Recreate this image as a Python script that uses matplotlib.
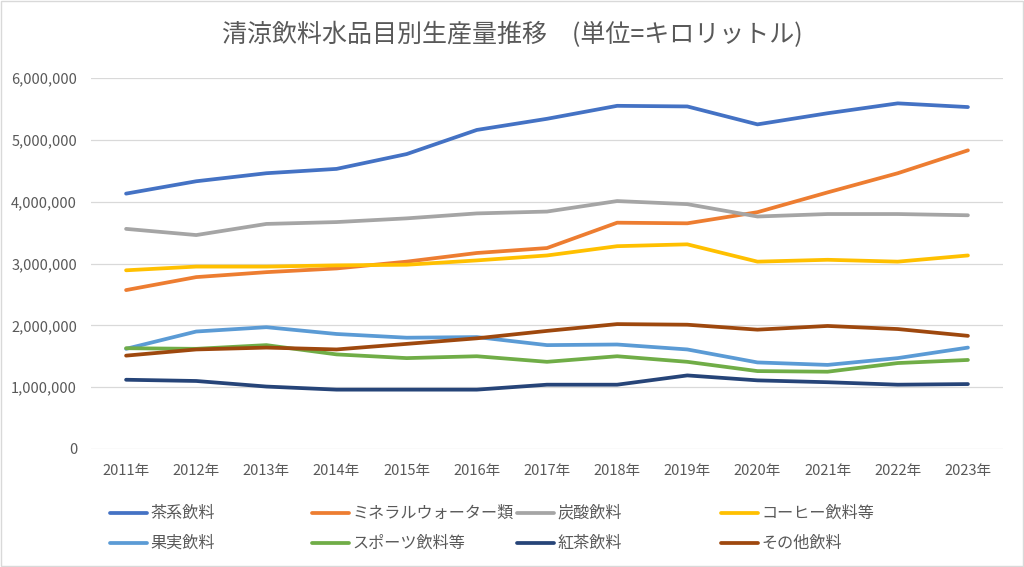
import matplotlib.pyplot as plt
from matplotlib.lines import Line2D
from matplotlib.patches import Rectangle
from matplotlib.ticker import FuncFormatter

plt.rcParams['font.family'] = ['Noto Sans CJK JP', 'DejaVu Sans']

years = ['2011年', '2012年', '2013年', '2014年', '2015年', '2016年', '2017年',
         '2018年', '2019年', '2020年', '2021年', '2022年', '2023年']

# 単位: キロリットル
tea = [4130000, 4330000, 4460000, 4530000, 4770000, 5160000, 5340000,
       5550000, 5540000, 5250000, 5430000, 5590000, 5530000]
mineral = [2570000, 2780000, 2860000, 2920000, 3030000, 3170000, 3250000,
           3660000, 3650000, 3830000, 4150000, 4460000, 4830000]
soda = [3560000, 3460000, 3640000, 3670000, 3730000, 3810000, 3840000,
        4010000, 3960000, 3760000, 3800000, 3800000, 3780000]
coffee = [2890000, 2950000, 2950000, 2970000, 2980000, 3050000, 3130000,
          3280000, 3310000, 3030000, 3060000, 3030000, 3130000]
fruit = [1620000, 1900000, 1970000, 1860000, 1800000, 1810000, 1680000,
         1690000, 1610000, 1400000, 1360000, 1470000, 1640000]
sports = [1630000, 1620000, 1680000, 1530000, 1470000, 1500000, 1410000,
          1500000, 1410000, 1260000, 1250000, 1390000, 1440000]
black_tea = [1120000, 1100000, 1010000, 960000, 960000, 960000, 1040000,
             1040000, 1190000, 1110000, 1080000, 1040000, 1050000]
others = [1510000, 1610000, 1640000, 1610000, 1700000, 1790000, 1910000,
          2020000, 2010000, 1930000, 1990000, 1940000, 1830000]

names = ['茶系飲料', 'ミネラルウォーター類', '炭酸飲料', 'コーヒー飲料等',
         '果実飲料', 'スポーツ飲料等', '紅茶飲料', 'その他飲料']
series = [tea, mineral, soda, coffee, fruit, sports, black_tea, others]
colors = ['#4472C4', '#ED7D31', '#A5A5A5', '#FFC000',
          '#5B9BD5', '#70AD47', '#264478', '#9E480E']

text_gray = '#595959'
grid_gray = '#D9D9D9'

fig = plt.figure(figsize=(10.24, 5.67), dpi=100)
ax = fig.add_axes([91 / 1024, 1 - 449 / 567, 912 / 1024, 371 / 567])

x = list(range(len(years)))
for vals, c in zip(series, colors):
    ax.plot(x, vals, color=c, lw=2.7, solid_capstyle='round', solid_joinstyle='round')

ax.set_xlim(-0.5, len(years) - 0.5)
ax.set_ylim(0, 6000000)
ax.set_yticks(range(0, 6000001, 1000000))
ax.yaxis.set_major_formatter(FuncFormatter(lambda v, p: f'{int(v):,}'))
ax.set_xticks(x)
ax.set_xticklabels(years)
ax.grid(axis='y', color=grid_gray, lw=0.9)
ax.set_axisbelow(True)
for s in ax.spines.values():
    s.set_visible(False)
ax.tick_params(axis='both', length=0, colors=text_gray, labelsize=10.5)
ax.tick_params(axis='y', pad=10)
ax.tick_params(axis='x', pad=11)

fig.text(0.5, 1 - 35 / 567, '清涼飲料水品目別生産量推移　(単位=キロリットル)',
         ha='center', va='center', fontsize=18, color=text_gray)

# legend laid out on a fixed 4-column grid like the original
col_x = [110, 312, 517, 721]
row_y = [513, 543]
for i, (name, c) in enumerate(zip(names, colors)):
    lx = col_x[i % 4] / 1024
    ly = 1 - row_y[i // 4] / 567
    fig.add_artist(Line2D([lx, lx + 37 / 1024], [ly, ly], color=c, lw=2.7,
                          solid_capstyle='round', transform=fig.transFigure))
    fig.text(lx + 40 / 1024, ly, name, ha='left', va='center',
             fontsize=11.6, color=text_gray)

fig.add_artist(Rectangle((1 / 1024, 1 / 567), 1 - 2 / 1024, 1 - 2 / 567,
                         transform=fig.transFigure, fill=False,
                         edgecolor=grid_gray, lw=1))

fig.savefig('out.png', dpi=100)
